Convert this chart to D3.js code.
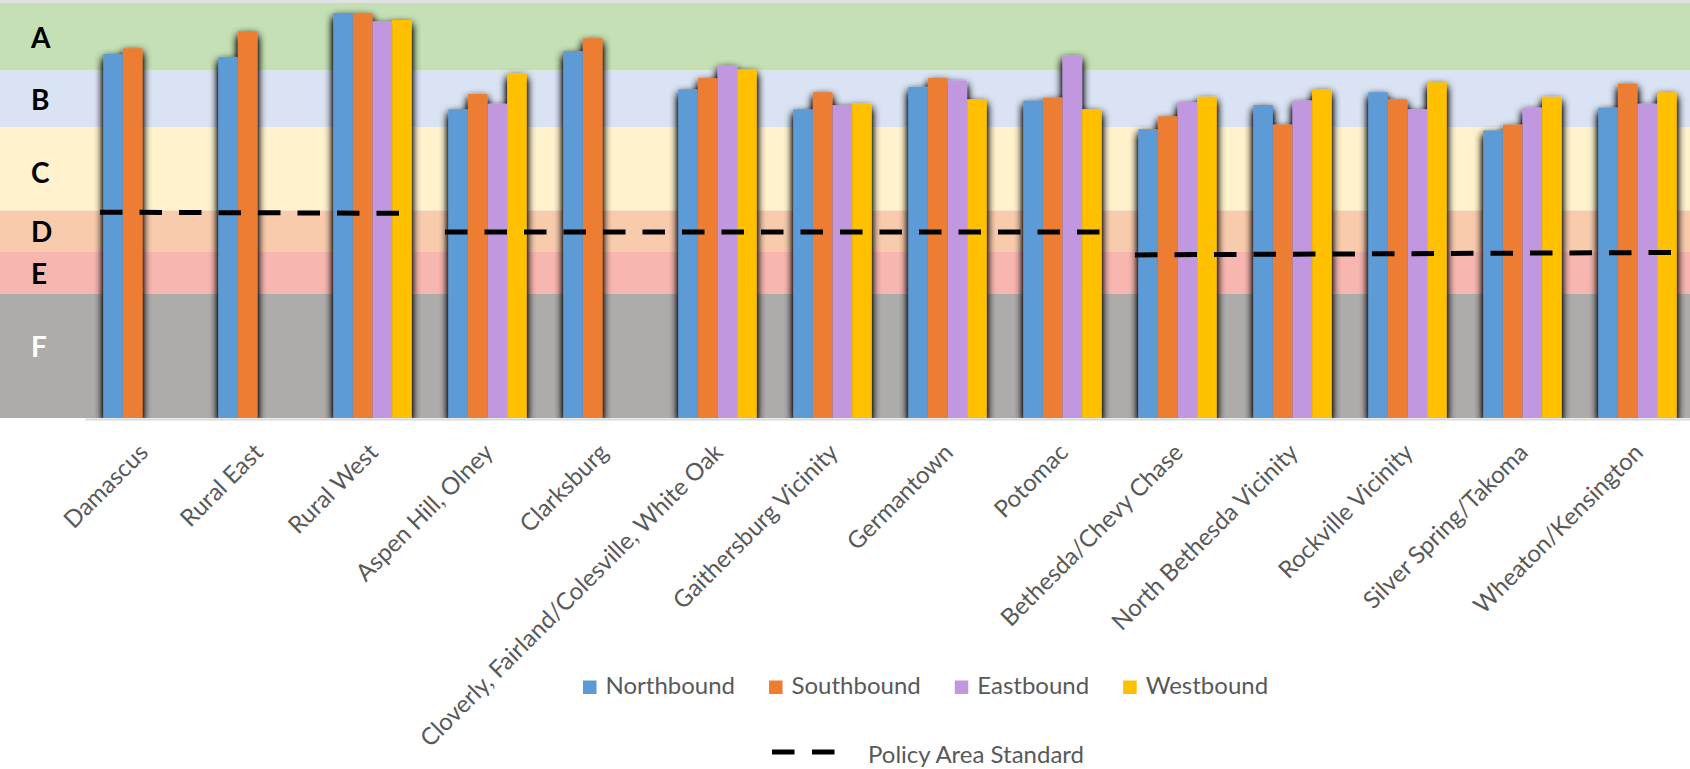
<!DOCTYPE html>
<html>
<head>
<meta charset="utf-8">
<script src="https://cdn.jsdelivr.net/npm/d3@7"></script>
<style>
  html, body { margin: 0; padding: 0; background: #fff; }
  svg { display: block; }
</style>
</head>
<body>
<svg id="chart" width="1690" height="769"></svg>
<script>
// ---------------- data ----------------
const categories = ["Damascus", "Rural East", "Rural West", "Aspen Hill, Olney", "Clarksburg",
  "Cloverly, Fairland/Colesville, White Oak", "Gaithersburg Vicinity", "Germantown", "Potomac",
  "Bethesda/Chevy Chase", "North Bethesda Vicinity", "Rockville Vicinity", "Silver Spring/Takoma",
  "Wheaton/Kensington"];
const seriesNames = ["Northbound", "Southbound", "Eastbound", "Westbound"];
const northbound = [87.7, 87.0, 97.6, 74.4, 88.4, 79.2, 74.4, 79.8, 76.5, 69.6, 75.4, 78.5, 69.3, 74.8];
const southbound = [89.1, 93.2, 97.6, 78.1, 91.5, 81.9, 78.5, 81.9, 77.2, 72.7, 70.7, 76.8, 70.7, 80.6];
const eastbound  = [null, null, 95.6, 75.7, null, 85.0, 75.4, 81.3, 87.4, 76.1, 76.5, 74.4, 74.8, 75.7];
const westbound  = [null, null, 95.9, 83.0, null, 84.0, 75.7, 76.8, 74.4, 77.4, 79.2, 80.9, 77.4, 78.5];

const gradeLabels = ["A", "B", "C", "D", "E", "F"];
const gradeUpper  = [100, 83.7, 70, 50, 40, 30];
const gradeLower  = [83.7, 70, 50, 40, 30, 0];

const policyFrom  = ["Damascus", "Aspen Hill, Olney", "Bethesda/Chevy Chase"];
const policyTo    = ["Rural West", "Potomac", "Wheaton/Kensington"];
const policyStart = [49.6, 44.8, 39.3];
const policyEnd   = [49.3, 44.8, 39.9];

// ---------------- styles ----------------
const seriesColors = ["#5B9BD5", "#ED7D31", "#C198E0", "#FFC000"];
const gradeColors  = ["#C5E0B4", "#DAE3F3", "#FFF2CC", "#F8CBAD", "#F8B6B0", "#AEABAB"];
const gradeText    = ["#000", "#000", "#000", "#000", "#000", "#fff"];
const gradeLabelDy = [0, 0, 3, 0, 0, -10];
const textGray = "#595959";
const fontSize = "24px";
const W = 1690, H = 769;

const svg = d3.select("#chart");
const defs = svg.append("defs");
const f = defs.append("filter").attr("id", "shadow")
  .attr("x", "-40%").attr("y", "-10%").attr("width", "180%").attr("height", "120%");
f.append("feGaussianBlur").attr("in", "SourceAlpha").attr("stdDeviation", 4).attr("result", "b");
f.append("feOffset").attr("in", "b").attr("dx", 0).attr("dy", 4).attr("result", "o");
f.append("feComponentTransfer").attr("in", "o").attr("result", "s")
  .append("feFuncA").attr("type", "linear").attr("slope", 1.6);
const m = f.append("feMerge");
m.append("feMergeNode").attr("in", "s");
m.append("feMergeNode").attr("in", "SourceGraphic");

// ---------------- scales ----------------
const y = d3.scaleLinear().domain([0, 100]).range([418, 3]);
const x0 = d3.scaleBand().domain(categories).range([85, 1695]).paddingInner(0.318).paddingOuter(0.159);
const x1 = d3.scaleBand().domain(seriesNames).range([0, x0.bandwidth()]);
const color = d3.scaleOrdinal().domain(seriesNames).range(seriesColors);
const seriesValues = [northbound, southbound, eastbound, westbound];

defs.append("clipPath").attr("id", "plotclip")
  .append("rect").attr("x", 0).attr("y", 0).attr("width", W).attr("height", y(0));

// top border
svg.append("line").attr("x1", 0).attr("x2", W).attr("y1", 1.5).attr("y2", 1.5)
  .attr("stroke", "#E2E2E2").attr("stroke-width", 3);

// grade bands
const bands = gradeLabels.map((g, i) => ({ g, hi: gradeUpper[i], lo: gradeLower[i], c: gradeColors[i], t: gradeText[i], dy: gradeLabelDy[i] }));
svg.append("g").selectAll("rect").data(bands).join("rect")
  .attr("x", 0).attr("width", W)
  .attr("y", d => y(d.hi)).attr("height", d => y(d.lo) - y(d.hi))
  .attr("fill", d => d.c);
svg.append("g").selectAll("text").data(bands).join("text")
  .attr("x", 31).attr("y", d => (y(d.hi) + y(d.lo)) / 2 + d.dy)
  .attr("dominant-baseline", "central")
  .style("font-family", "Lato, 'Liberation Sans', sans-serif")
  .style("font-weight", 700).style("font-size", "28px")
  .attr("fill", d => d.t).text(d => d.g);

// bars
const groups = svg.append("g").attr("clip-path", "url(#plotclip)")
  .selectAll("g").data(categories).join("g")
  .attr("transform", d => `translate(${x0(d)},0)`)
  .attr("filter", "url(#shadow)");
groups.selectAll("rect")
  .data((c, ci) => seriesNames.map((s, si) => ({ s, v: seriesValues[si][ci] })).filter(d => d.v != null))
  .join("rect")
  .attr("x", d => x1(d.s)).attr("width", x1.bandwidth())
  .attr("y", d => y(d.v)).attr("height", d => y(0) - y(d.v))
  .attr("fill", d => color(d.s));

// axis line
const xAxis = d3.axisBottom(x0).tickSize(0).tickFormat("");
const ax = svg.append("g").attr("transform", `translate(0,${y(0) + 1})`).call(xAxis);
ax.select(".domain").attr("stroke", "#D9D9D9").attr("stroke-width", 2);

// category labels
svg.append("g").selectAll("text").data(categories).join("text")
  .attr("transform", d => `translate(${x0(d) + x0.bandwidth() / 2 + 7},454) rotate(-45)`)
  .attr("text-anchor", "end")
  .style("font-family", "Lato, sans-serif").style("font-size", fontSize)
  .attr("fill", textGray).text(d => d);

// policy area standard lines
const policy = policyFrom.map((a, i) => ({ a, b: policyTo[i], s: policyStart[i], e: policyEnd[i] }));
const inset = 15;
svg.append("g").selectAll("line").data(policy).join("line")
  .attr("x1", d => x0(d.a) - x0.step() * x0.paddingInner() / 2 + inset)
  .attr("x2", d => x0(d.b) + x0.bandwidth() + x0.step() * x0.paddingInner() / 2 - inset)
  .attr("y1", d => y(d.s)).attr("y2", d => y(d.e))
  .attr("stroke", "#000").attr("stroke-width", 5)
  .attr("stroke-dasharray", "22.5,17");

// legend row 1
const leg = svg.append("g").attr("transform", "translate(583,694)");
let cx = 0;
seriesNames.forEach((s, i) => {
  const g = leg.append("g").attr("transform", `translate(${cx},0)`);
  g.append("rect").attr("x", 0).attr("y", -13.5).attr("width", 13.5).attr("height", 13.5).attr("fill", seriesColors[i]);
  const t = g.append("text").attr("x", 22.5).attr("y", 0)
    .style("font-family", "Lato, sans-serif").style("font-size", fontSize)
    .attr("fill", textGray).text(s);
  cx += 22.5 + t.node().getComputedTextLength() + 34;
});

// legend row 2
const leg2 = svg.append("g").attr("transform", "translate(772,752)");
leg2.append("line").attr("x1", 0).attr("x2", 63).attr("y1", 0).attr("y2", 0)
  .attr("stroke", "#000").attr("stroke-width", 5).attr("stroke-dasharray", "22.5,17.5");
leg2.append("text").attr("x", 96).attr("y", 10.5)
  .style("font-family", "Lato, sans-serif").style("font-size", fontSize)
  .attr("fill", textGray).text("Policy Area Standard");
</script>
</body>
</html>
